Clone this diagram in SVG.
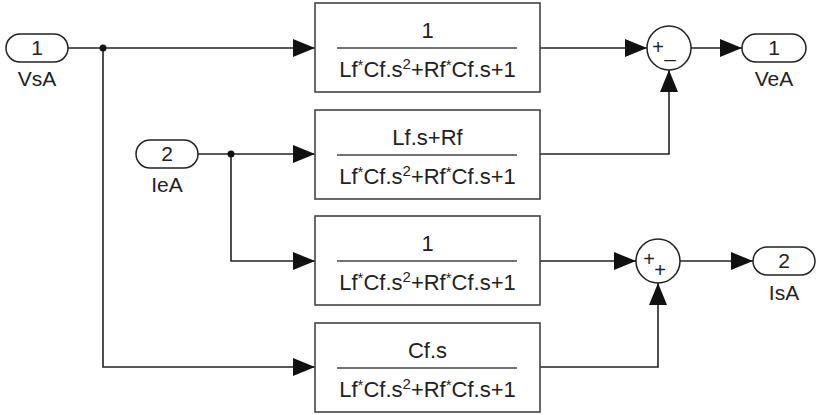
<svg xmlns="http://www.w3.org/2000/svg" width="816" height="415" viewBox="0 0 816 415">
<defs>
<style>
.blk{fill:#fff;stroke:#444;stroke-width:1.6}
.frac{stroke:#444;stroke-width:1.5}
.port{fill:#fff;stroke:#222;stroke-width:1.5}
.sum{fill:#fff;stroke:#222;stroke-width:1.5}
.wire{fill:none;stroke:#222;stroke-width:1.6}
text{font-family:"Liberation Sans",Arial,sans-serif;fill:#222}
.t{font-size:21px;text-anchor:middle}
.d{font-size:22px;text-anchor:middle}
.s{font-size:20px;text-anchor:middle}
.sup{font-size:15px}
</style>
<marker id="arr" markerUnits="userSpaceOnUse" viewBox="0 0 22 18" refX="22" refY="9" markerWidth="22" markerHeight="18" orient="auto">
<path d="M0,0 L22,9 L0,18 z" fill="#111"/>
</marker>
</defs>
<g id="connectors">
<path class="wire" d="M68,48 H315" marker-end="url(#arr)"/>
<path class="wire" d="M103,48 V367 H315" marker-end="url(#arr)"/>
<circle cx="103" cy="48" r="3.5" fill="#111"/>
<path class="wire" d="M540,48 H647" marker-end="url(#arr)"/>
<path class="wire" d="M691,48 H742" marker-end="url(#arr)"/>
<path class="wire" d="M540,154 H669 V70" marker-end="url(#arr)"/>
<path class="wire" d="M198,154 H315" marker-end="url(#arr)"/>
<path class="wire" d="M231,154 V261 H315" marker-end="url(#arr)"/>
<circle cx="231" cy="154" r="3.5" fill="#111"/>
<path class="wire" d="M540,261 H636" marker-end="url(#arr)"/>
<path class="wire" d="M680,261 H753" marker-end="url(#arr)"/>
<path class="wire" d="M540,367 H658 V283" marker-end="url(#arr)"/>
</g>
<g id="VsA">
<rect class="port" x="6" y="34" width="62" height="28" rx="14"/>
<text class="t" x="37" y="55">1</text>
<text class="t" x="37" y="86">VsA</text>
</g>
<g id="IeA">
<rect class="port" x="136" y="140" width="62" height="28" rx="14"/>
<text class="t" x="167" y="161">2</text>
<text class="t" x="167" y="192">IeA</text>
</g>
<g id="VeA">
<rect class="port" x="742" y="34" width="64" height="28" rx="14"/>
<text class="t" x="774" y="55">1</text>
<text class="t" x="774" y="86">VeA</text>
</g>
<g id="IsA">
<rect class="port" x="753" y="247" width="62" height="28" rx="14"/>
<text class="t" x="784" y="268">2</text>
<text class="t" x="784" y="300">IsA</text>
</g>
<g id="tf1">
<rect class="blk" x="315" y="3" width="225" height="89"/>
<text class="d" x="427.5" y="38">1</text>
<line class="frac" x1="337" y1="48" x2="517" y2="48"/>
<text class="d" x="427.5" y="77">Lf<tspan class="sup" dy="-7">*</tspan><tspan dy="7">Cf.s</tspan><tspan class="sup" dy="-8">2</tspan><tspan dy="8">+Rf</tspan><tspan class="sup" dy="-7">*</tspan><tspan dy="7">Cf.s+1</tspan></text>
</g>
<g id="tf2">
<rect class="blk" x="315" y="110" width="225" height="89"/>
<text class="d" x="427.5" y="145">Lf.s+Rf</text>
<line class="frac" x1="337" y1="155" x2="517" y2="155"/>
<text class="d" x="427.5" y="184">Lf<tspan class="sup" dy="-7">*</tspan><tspan dy="7">Cf.s</tspan><tspan class="sup" dy="-8">2</tspan><tspan dy="8">+Rf</tspan><tspan class="sup" dy="-7">*</tspan><tspan dy="7">Cf.s+1</tspan></text>
</g>
<g id="tf3">
<rect class="blk" x="315" y="216" width="225" height="89"/>
<text class="d" x="427.5" y="251">1</text>
<line class="frac" x1="337" y1="261" x2="517" y2="261"/>
<text class="d" x="427.5" y="290">Lf<tspan class="sup" dy="-7">*</tspan><tspan dy="7">Cf.s</tspan><tspan class="sup" dy="-8">2</tspan><tspan dy="8">+Rf</tspan><tspan class="sup" dy="-7">*</tspan><tspan dy="7">Cf.s+1</tspan></text>
</g>
<g id="tf4">
<rect class="blk" x="315" y="323" width="225" height="89"/>
<text class="d" x="427.5" y="358">Cf.s</text>
<line class="frac" x1="337" y1="368" x2="517" y2="368"/>
<text class="d" x="427.5" y="397">Lf<tspan class="sup" dy="-7">*</tspan><tspan dy="7">Cf.s</tspan><tspan class="sup" dy="-8">2</tspan><tspan dy="8">+Rf</tspan><tspan class="sup" dy="-7">*</tspan><tspan dy="7">Cf.s+1</tspan></text>
</g>
<g id="sum1">
<circle class="sum" cx="669" cy="48" r="22"/>
<text class="s" x="658" y="54">+</text>
<text class="s" x="670" y="57">_</text>
</g>
<g id="sum2">
<circle class="sum" cx="658" cy="261" r="22"/>
<text class="s" x="649" y="266">+</text>
<text class="s" x="660" y="277">+</text>
</g>
</svg>
